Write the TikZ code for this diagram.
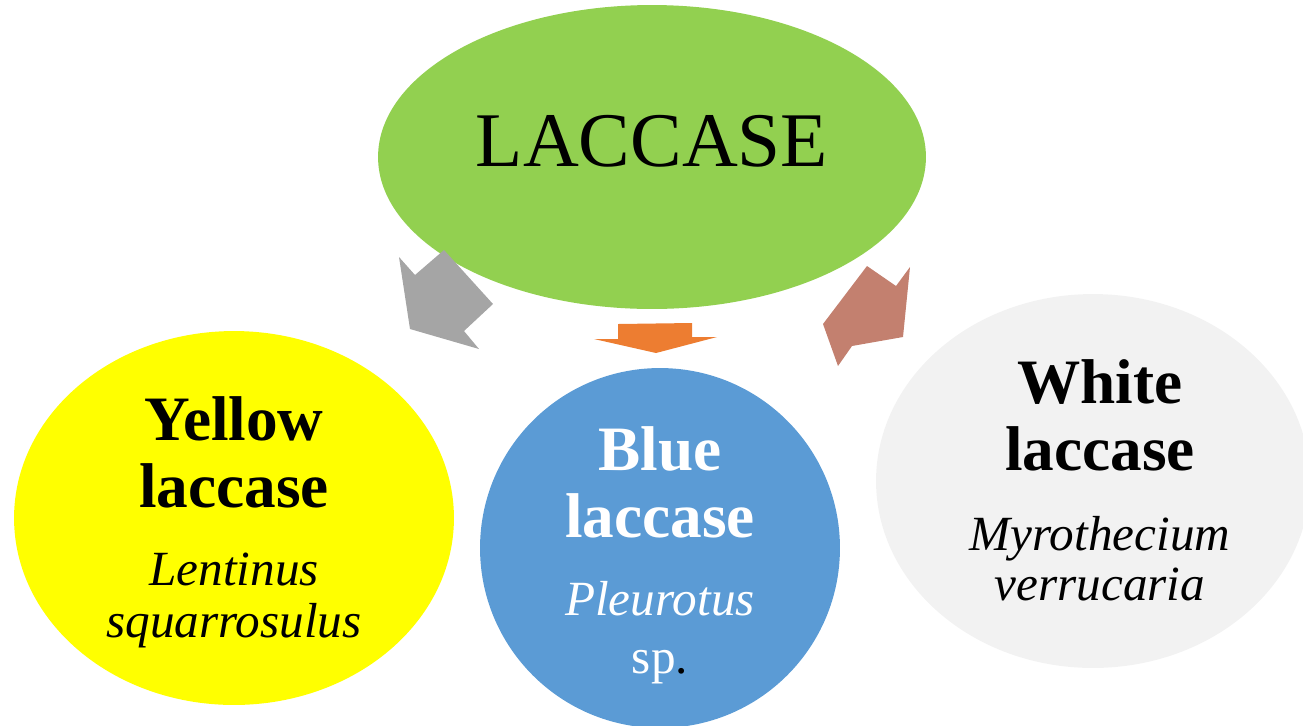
\documentclass[tikz,border=0pt]{standalone}
\usepackage{fontspec}
\setmainfont{Liberation Serif}
\usetikzlibrary{shapes.geometric}

\definecolor{lacgreen}{HTML}{92D050}
\definecolor{lacyellow}{HTML}{FFFF00}
\definecolor{lacblue}{HTML}{5B9BD5}
\definecolor{lacwhite}{HTML}{F2F2F2}
\definecolor{arrgrey}{HTML}{A5A5A5}
\definecolor{arrorange}{HTML}{ED7D31}
\definecolor{arrbrown}{HTML}{C3806F}

\tikzset{
  blob/.style={ellipse, inner sep=0pt},
  kind/.style={anchor=base, font=\fontsize{36}{40}\selectfont\bfseries},
  genus/.style={anchor=base, font=\fontsize{28}{32}\selectfont\itshape}
}

\begin{document}
\begin{tikzpicture}[x=0.02cm, y=-0.02cm]
	\useasboundingbox (0,0) rectangle (1303,725);
	\clip (0,0) rectangle (1303,725);

	% Laccase
	\node[blob, fill=lacgreen, minimum width=10.96cm, minimum height=6.08cm] (laccase) at (652,157) {};
	\node[anchor=base, font=\fontsize{44}{50}\selectfont] (title) at (652,166) {LACCASE};

	% Yellow laccase
	\node[blob, fill=lacyellow, minimum width=8.8cm, minimum height=7.48cm] (yellow) at (234,518) {};
	\node[kind] (yellowa) at (234,440) {Yellow};
	\node[kind] (yellowb) at (234,507) {laccase};
	\node[genus] (yellowc) at (234,585) {Lentinus};
	\node[genus] (yellowd) at (234,637) {squarrosulus};

	% Blue laccase
	\node[circle, inner sep=0pt, fill=lacblue, minimum size=7.2cm] (blue) at (660,548) {};
	\node[kind, text=white] (bluea) at (660,470) {Blue};
	\node[kind, text=white] (blueb) at (660,537) {laccase};
	\node[genus, text=white] (bluec) at (660,615) {Pleurotus};
	\node[anchor=base, font=\fontsize{28}{32}\selectfont] (blued) at (660,673) {\textcolor{white}{sp}.};

	% White laccase
	\node[blob, fill=lacwhite, minimum width=8.68cm, minimum height=7.48cm] (white) at (1093,481) {};
	\node[kind] (whitea) at (1100,403) {White};
	\node[kind] (whiteb) at (1100,470) {laccase};
	\node[genus] (whitec) at (1100,550) {Myrothecium};
	\node[genus] (whited) at (1100,600) {verrucaria};

	% Block arrows
	\fill[arrgrey] (399,257) -- (415,275) -- (444,250) -- (493,304) -- (464,331) -- (479,349) -- (410,329) -- cycle;
	\fill[arrorange] (618,324) -- (692,323) -- (692,337) -- (717,337) -- (656,353) -- (594,339) -- (618,339) -- cycle;
	\fill[arrbrown] (867,266) -- (896,286) -- (910,267) -- (903,337) -- (852,346) -- (838,366) -- (823,324) -- cycle;
\end{tikzpicture}
\end{document}
